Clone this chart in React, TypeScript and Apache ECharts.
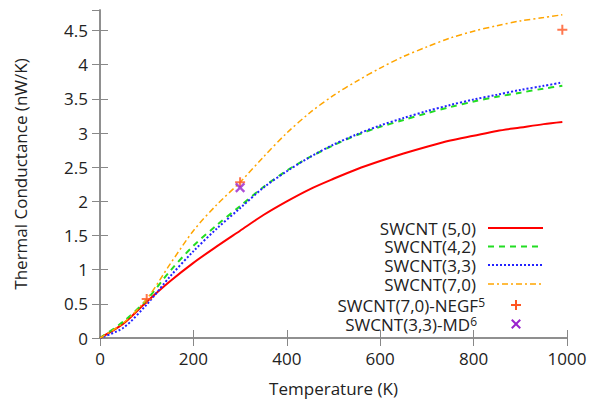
import React, { useEffect, useRef } from "react";
import * as echarts from "echarts";

const temps = [0, 50, 100, 150, 200, 250, 300, 350, 400, 450, 500, 550, 600, 650, 700, 750, 800, 850, 900, 950, 990];
const swcnt50 = [0, 0.21, 0.53, 0.83, 1.1, 1.34, 1.57, 1.8, 2.0, 2.18, 2.33, 2.47, 2.59, 2.7, 2.8, 2.89, 2.96, 3.03, 3.08, 3.13, 3.16];
const swcnt42 = [0, 0.24, 0.56, 0.98, 1.35, 1.65, 1.93, 2.21, 2.45, 2.65, 2.82, 2.97, 3.09, 3.19, 3.29, 3.38, 3.46, 3.53, 3.59, 3.65, 3.69];
const swcnt33 = [0, 0.15, 0.49, 0.9, 1.27, 1.6, 1.9, 2.2, 2.44, 2.65, 2.83, 2.98, 3.11, 3.22, 3.32, 3.41, 3.49, 3.56, 3.63, 3.69, 3.74];
const swcnt70 = [0, 0.22, 0.57, 1.08, 1.57, 1.95, 2.28, 2.65, 3.0, 3.3, 3.55, 3.76, 3.95, 4.12, 4.26, 4.39, 4.49, 4.57, 4.64, 4.69, 4.73];
const negfT = [100, 300, 990];
const negfV = [0.57, 2.28, 4.51];
const mdT = [300];
const mdV = [2.2];

const FONT = "'Open Sans', sans-serif";
const FS = 17;
const PLUS = "path://M4,0h2v4h4v2h-4v4h-2v-4h-4v-2h4z";

const zip = (xs: number[], ys: number[]) => xs.map((x, i) => [x, ys[i]]);

export default function App() {
  const ref = useRef<HTMLDivElement>(null);
  useEffect(() => {
    if (!ref.current) return;
    const chart = echarts.init(ref.current, undefined, { renderer: "svg" });
    const axisColor = "#888";
    const labelStyle = { color: "#222", fontFamily: FONT, fontSize: FS };
    const legendX1 = 488, legendX2 = 543, textRight = 476;
    const rows = [228, 246.5, 265, 284, 305, 324];
    const lineDefs = [
      { color: "#ff0000", dash: null as any, width: 2 },
      { color: "#22dd22", dash: [6, 5], width: 2 },
      { color: "#2222ff", dash: [2, 2], width: 2 },
      { color: "#ffa500", dash: [6, 3, 2, 3], width: 1.5 },
    ];
    const legendTexts = ["SWCNT (5,0)", "SWCNT(4,2)", "SWCNT(3,3)", "SWCNT(7,0)"];
    const graphics: any[] = [];
    legendTexts.forEach((t, i) => {
      graphics.push({
        type: "text",
        x: textRight,
        y: rows[i],
        style: { text: t, align: "right", verticalAlign: "middle", fill: "#222", font: `${FS}px ${FONT}`, lineHeight: 17 },
      });
      graphics.push({
        type: "line",
        shape: { x1: legendX1, y1: rows[i], x2: legendX2, y2: rows[i] },
        style: { stroke: lineDefs[i].color, lineWidth: lineDefs[i].width, lineDash: lineDefs[i].dash },
      });
    });
    const rich = {
      a: { fill: "#222", fontFamily: FONT, fontSize: FS, lineHeight: 17 },
      s: { fill: "#222", fontFamily: FONT, fontSize: 12, lineHeight: 12, verticalAlign: "top" },
    };
    graphics.push({
      type: "text",
      x: 485,
      y: rows[4],
      style: { text: "{a|SWCNT(7,0)-NEGF}{s|5}", align: "right", verticalAlign: "middle", rich },
    });
    graphics.push({
      type: "text",
      x: 477,
      y: rows[5],
      style: { text: "{a|SWCNT(3,3)-MD}{s|6}", align: "right", verticalAlign: "middle", rich },
    });
    graphics.push({
      type: "group",
      x: 516,
      y: rows[4],
      children: [
        { type: "rect", shape: { x: -5, y: -1, width: 10, height: 2 }, style: { fill: "#ff5522" } },
        { type: "rect", shape: { x: -1, y: -5, width: 2, height: 10 }, style: { fill: "#ff5522" } },
      ],
    });
    graphics.push({
      type: "group",
      x: 516,
      y: rows[5],
      rotation: Math.PI / 4,
      children: [
        { type: "rect", shape: { x: -6, y: -1, width: 12, height: 2 }, style: { fill: "#9922cc" } },
        { type: "rect", shape: { x: -1, y: -6, width: 2, height: 12 }, style: { fill: "#9922cc" } },
      ],
    });

    const lineSeries = [swcnt50, swcnt42, swcnt33, swcnt70].map((vals, i) => ({
      type: "line",
      data: zip(temps, vals),
      smooth: 0.3,
      showSymbol: false,
      symbol: "none",
      xAxisIndex: 0,
      yAxisIndex: 0,
      lineStyle: { color: lineDefs[i].color, width: lineDefs[i].width, type: lineDefs[i].dash || "solid" },
      z: 3,
    }));

    const tick = { show: true, inside: true, length: 8, lineStyle: { color: axisColor } };
    const line = { show: true, lineStyle: { color: axisColor, width: 1.5 } };

    chart.setOption({
      animation: false,
      grid: { left: 100, right: 29, top: 10, bottom: 60, show: false },
      xAxis: [
        {
          type: "value",
          min: 0,
          max: 1000,
          interval: 200,
          name: "Temperature (K)",
          nameLocation: "middle",
          nameGap: 42,
          nameTextStyle: labelStyle,
          axisLine: line,
          axisTick: tick,
          axisLabel: { ...labelStyle, margin: 12, formatter: (v: number) => String(v) },
          splitLine: { show: false },
        },
        {
          type: "value",
          position: "top",
          min: 0,
          max: 1000,
          interval: 200,
          axisLine: line,
          axisTick: tick,
          axisLabel: { show: false },
          splitLine: { show: false },
        },
      ],
      yAxis: [
        {
          type: "value",
          min: 0,
          max: 4.8,
          interval: 0.5,
          name: "Thermal Conductance (nW/K)",
          nameLocation: "middle",
          nameGap: 71,
          nameTextStyle: labelStyle,
          axisLine: line,
          axisTick: tick,
          axisLabel: { ...labelStyle, margin: 12, showMaxLabel: false },
          splitLine: { show: false },
        },
        {
          type: "value",
          position: "right",
          min: 0,
          max: 4.8,
          interval: 0.5,
          axisLine: line,
          axisTick: tick,
          axisLabel: { show: false },
          splitLine: { show: false },
        },
      ],
      series: [
        ...lineSeries,
        {
          type: "scatter",
          data: zip(negfT, negfV),
          symbol: PLUS,
          symbolSize: 10,
          itemStyle: { color: "#ff5522" },
          z: 4,
        },
        {
          type: "scatter",
          data: zip(mdT, mdV),
          symbol: PLUS,
          symbolSize: 12,
          symbolRotate: 45,
          itemStyle: { color: "#9922cc" },
          z: 5,
        },
      ],
      graphic: graphics,
    });
    return () => chart.dispose();
  }, []);
  return (
    <div
      ref={ref}
      style={{ position: "fixed", left: 0, top: 0, width: 596, height: 402, background: "#fff" }}
    />
  );
}
